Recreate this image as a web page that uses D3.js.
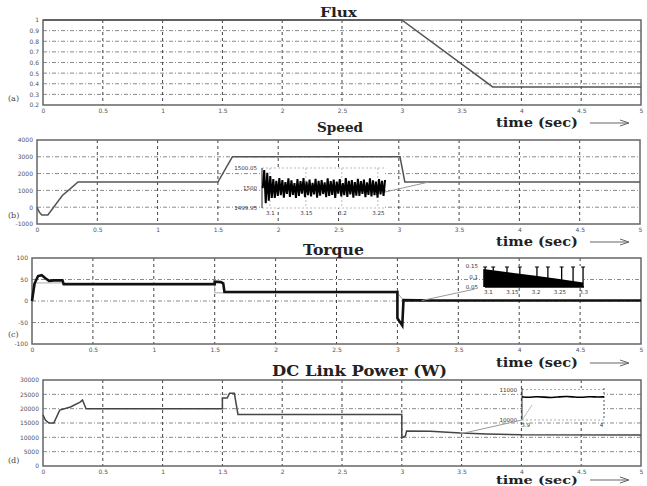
<!DOCTYPE html>
<html><head><meta charset="utf-8">
<script src="https://cdn.jsdelivr.net/npm/d3@7"></script>
<style>body{margin:0;background:#fff}svg{display:block}</style>
</head><body>
<script>
// ---------- data ----------
const timeTicks=[0,0.5,1,1.5,2,2.5,3,3.5,4,4.5,5];
const timeTickLabels=["0","0.5","1","1.5","2","2.5","3","3.5","4","4.5","5"];

const fluxTicks=[0.2,0.3,0.4,0.5,0.6,0.7,0.8,0.9,1];
const fluxTickLabels=["0.2","0.3","0.4","0.5","0.6","0.7","0.8","0.9","1"];
const fluxT=[0,3,3.76,5];
const fluxV=[1,1,0.37,0.37];

const speedTicks=[-1000,0,1000,2000,3000,4000];
const speedTickLabels=["-1000","0","1000","2000","3000","4000"];
const speedT=[0,0.02,0.04,0.09,0.15,0.21,0.27,0.34,1.5,1.62,3.01,3.05,5];
const speedV=[0,-300,-460,-460,120,700,1060,1500,1500,3000,3000,1500,1500];
const speedZoomTicksX=[3.1,3.15,3.2,3.25];
const speedZoomLabelsX=["3.1","3.15","3.2","3.25"];
const speedZoomTicksY=[1499.95,1500,1500.05];
const speedZoomLabelsY=["1499.95","1500","1500.05"];
const speedZoomStart=3.09, speedZoomStep=0.0021;
const speedZoomV=[1500.00,1500.045,1499.962,1500.038,1499.968,1500.03,1499.975,1500.022,1499.975,1500.018,1499.98,1500.025,1499.982,1500.02,1499.976,1500.015,1499.985,1500.024,1499.978,1500.019,1499.983,1500.012,1499.975,1500.022,1499.98,1500.017,1499.986,1500.025,1499.977,1500.016,1499.982,1500.021,1499.979,1500.013,1499.984,1500.023,1499.976,1500.018,1499.981,1500.02,1499.985,1500.014,1499.977,1500.024,1499.98,1500.017,1499.983,1500.021,1499.975,1500.016,1499.986,1500.022,1499.979,1500.012,1499.982,1500.025,1499.978,1500.018,1499.984,1500.02,1499.976,1500.015,1499.981,1500.023,1499.98,1500.017,1499.985,1500.021,1499.977,1500.014,1499.983,1500.024,1499.979,1500.019,1499.982,1500.016,1499.976,1500.022,1499.984,1500.018,1499.98,1500.02];

const torqueTicks=[-100,-50,0,50,100];
const torqueTickLabels=["-100","-50","0","50","100"];
const torqueT=[0,0.02,0.05,0.08,0.11,0.14,0.18,0.25,0.26,1.5,1.5,1.55,1.57,1.58,3.0,3.0,3.04,3.05,3.3,5];
const torqueV=[0,40,58,60,53,47,48,48,39,39,45,44,41,21,21,-40,-57,2,1,1];
const torqueRefT=[0,0.03,1.5,1.5,3.0,3.05,5];
const torqueRefV=[0,42,42,19,19,1,1];
const torqueZoomTicksX=[3.1,3.15,3.2,3.25,3.3];
const torqueZoomLabelsX=["3.1","3.15","3.2","3.25","3.3"];
const torqueZoomTicksY=[0.05,0.1,0.15];
const torqueZoomLabelsY=["0.05","0.1","0.15"];
const torqueZoomT=[3.09,3.15,3.2,3.25,3.3];
const torqueZoomUpper=[0.136,0.118,0.103,0.088,0.071];
const torqueZoomLower=[0.05,0.05,0.05,0.05,0.05];
const torqueZoomSpikes=[3.094,3.111,3.14,3.167,3.203,3.226,3.255,3.279,3.3];

const powerTicks=[0,5000,10000,15000,20000,25000,30000];
const powerTickLabels=["0","5000","10000","15000","20000","25000","30000"];
const powerT=[0,0.02,0.05,0.09,0.14,0.23,0.31,0.33,0.36,1.5,1.5,1.54,1.56,1.6,1.63,3.0,3.0,3.03,3.04,3.24,3.49,3.71,4.0,5];
const powerV=[17800,16000,15000,15000,19500,20600,22300,23000,20000,20000,23700,23700,25400,25400,18000,18000,9800,10500,12200,12100,11500,11200,10900,10800];
const powerZoomTicksX=[3.9,4];
const powerZoomLabelsX=["3.9","4"];
const powerZoomTicksY=[10000,11000];
const powerZoomLabelsY=["10000","11000"];
const powerZoomT=[3.896,3.905,3.915,3.925,3.935,3.945,3.955,3.965,3.975,3.985,3.995,4.004];
const powerZoomV=[10760,10740,10770,10750,10730,10760,10780,10750,10740,10770,10750,10760];

const titles=["Flux","Speed","Torque","DC Link Power (W)"];
const panelTags=["(a)","(b)","(c)","(d)"];

// ---------- drawing ----------
const W=647,H=486;
const svg=d3.select("body").append("svg").attr("width",W).attr("height",H);
svg.append("rect").attr("width",W).attr("height",H).attr("fill","#fff");

const SERIF="'DejaVu Serif','Liberation Serif',serif";
const SANS="'DejaVu Sans',sans-serif";

const layout=[
  {x0:43,x1:641,y0:20,y1:105,dom:[0.2,1],ticks:fluxTicks,labels:fluxTickLabels,tx:320,tw:37,ty:17,fs:12,tagY:101,timeY:127,tfs:12},
  {x0:37,x1:640,y0:140,y1:224,dom:[-1000,4000],ticks:speedTicks,labels:speedTickLabels,tx:317,tw:46,ty:132,fs:12,tagY:218,timeY:246,tfs:12},
  {x0:32,x1:641,y0:258,y1:344,dom:[-100,100],ticks:torqueTicks,labels:torqueTickLabels,tx:303,tw:61,ty:255,fs:14,tagY:337,timeY:367,tfs:12},
  {x0:43,x1:641,y0:380,y1:466,dom:[0,30000],ticks:powerTicks,labels:powerTickLabels,tx:272,tw:175,ty:376,fs:14,tagY:463,timeY:484,tfs:10.5}
];

const scales=layout.map((L,i)=>{
  const x=d3.scaleLinear().domain([0,5]).range([L.x0,L.x1]);
  const y=d3.scaleLinear().domain(L.dom).range([L.y1,L.y0]);
  const g=svg.append("g");
  g.selectAll(".hg").data(L.ticks.slice(1,-1)).enter().append("line")
    .attr("x1",L.x0).attr("x2",L.x1).attr("y1",d=>y(d)).attr("y2",d=>y(d))
    .attr("stroke","#8a8a8a").attr("stroke-width",1).attr("stroke-dasharray","4,2,1,2");
  g.selectAll(".vg").data(timeTicks.slice(1,-1)).enter().append("line")
    .attr("x1",d=>x(d)).attr("x2",d=>x(d)).attr("y1",L.y0).attr("y2",L.y1)
    .attr("stroke","#444").attr("stroke-width",1).attr("stroke-dasharray","3,3");
  g.append("rect").attr("x",L.x0).attr("y",L.y0).attr("width",L.x1-L.x0).attr("height",L.y1-L.y0)
    .attr("fill","none").attr("stroke","#666").attr("stroke-width",1.5);
  const ax=g.append("g").attr("transform",`translate(0,${L.y1})`)
    .call(d3.axisBottom(x).tickValues(timeTicks).tickFormat((d,k)=>timeTickLabels[k]).tickSize(0).tickPadding(4));
  const ay=g.append("g").attr("transform",`translate(${L.x0},0)`)
    .call(d3.axisLeft(y).tickValues(L.ticks).tickFormat((d,k)=>L.labels[k]).tickSize(0).tickPadding(4));
  [ax,ay].forEach(a=>{a.select(".domain").remove();
    a.selectAll("text").attr("font-family",SANS).attr("font-size",6).attr("fill","#555");});
  svg.append("text").attr("x",L.tx).attr("y",L.ty).attr("textLength",L.tw).attr("lengthAdjust","spacingAndGlyphs")
    .attr("font-family",SERIF).attr("font-weight","bold").attr("font-size",L.fs).attr("fill","#222").text(titles[i]);
  svg.append("text").attr("x",8).attr("y",L.tagY).attr("font-family",SERIF).attr("font-size",8).attr("fill","#444").text(panelTags[i]);
  svg.append("text").attr("x",496).attr("y",L.timeY).attr("textLength",82).attr("lengthAdjust","spacingAndGlyphs")
    .attr("font-family",SERIF).attr("font-weight","bold").attr("font-size",L.tfs).attr("fill","#222").text("time (sec)");
  svg.append("line").attr("x1",590).attr("x2",628).attr("y1",L.timeY-4).attr("y2",L.timeY-4).attr("stroke","#666").attr("stroke-width",1);
  svg.append("path").attr("d",`M620,${L.timeY-7} L629,${L.timeY-4} L620,${L.timeY-1}`).attr("fill","none").attr("stroke","#666").attr("stroke-width",1);
  return {x,y};
});

const lineOf=(sx,sy,T,V)=>d3.line().x((d,k)=>sx(T[k])).y(d=>sy(d))(V);

svg.append("path").attr("d",lineOf(scales[0].x,scales[0].y,fluxT,fluxV)).attr("fill","none").attr("stroke","#555").attr("stroke-width",1.5);
svg.append("path").attr("d",lineOf(scales[1].x,scales[1].y,speedT,speedV)).attr("fill","none").attr("stroke","#555").attr("stroke-width",1.5);
svg.append("path").attr("d",lineOf(scales[2].x,scales[2].y,torqueRefT,torqueRefV)).attr("fill","none").attr("stroke","#aaa").attr("stroke-width",1);
svg.append("path").attr("d",lineOf(scales[2].x,scales[2].y,torqueT,torqueV)).attr("fill","none").attr("stroke","#111").attr("stroke-width",2.6);
svg.append("path").attr("d",lineOf(scales[3].x,scales[3].y,powerT,powerV)).attr("fill","none").attr("stroke","#444").attr("stroke-width",1.5);

// ---------- insets ----------
function inset(box,domX,domY,tx,tlx,ty,tly){
  const x=d3.scaleLinear().domain(domX).range([box.x0,box.x1]);
  const y=d3.scaleLinear().domain(domY).range([box.y1,box.y0]);
  const g=svg.append("g");
  g.append("rect").attr("x",box.x0).attr("y",box.y0).attr("width",box.x1-box.x0).attr("height",box.y1-box.y0).attr("fill","#fff");
  const ax=g.append("g").attr("transform",`translate(0,${box.y1})`)
    .call(d3.axisBottom(x).tickValues(tx).tickFormat((d,k)=>tlx[k]).tickSize(0).tickPadding(3));
  const ay=g.append("g").attr("transform",`translate(${box.x0-2},0)`)
    .call(d3.axisLeft(y).tickValues(ty).tickFormat((d,k)=>tly[k]).tickSize(0).tickPadding(3));
  [ax,ay].forEach(a=>{a.select(".domain").remove();
    a.selectAll("text").attr("font-family",SANS).attr("font-size",5.5).attr("fill","#333");});
  return {x,y,g};
}

{
  const b={x0:262,x1:385,y0:168,y1:208};
  const I=inset(b,[3.089,3.26],[1499.95,1500.05],speedZoomTicksX,speedZoomLabelsX,speedZoomTicksY,speedZoomLabelsY);
  I.g.selectAll(".v").data(speedZoomTicksX).enter().append("line").attr("x1",d=>I.x(d)).attr("x2",d=>I.x(d))
    .attr("y1",b.y0).attr("y2",b.y1).attr("stroke","#bbb").attr("stroke-dasharray","2,2");
  I.g.selectAll(".h").data(speedZoomTicksY).enter().append("line").attr("x1",b.x0).attr("x2",b.x1)
    .attr("y1",d=>I.y(d)).attr("y2",d=>I.y(d)).attr("stroke","#bbb").attr("stroke-dasharray","2,2");
  I.g.append("line").attr("x1",b.x0).attr("x2",b.x0).attr("y1",b.y0).attr("y2",b.y1).attr("stroke","#222").attr("stroke-width",1);
  I.g.append("path").attr("d",d3.line().x((d,k)=>I.x(speedZoomStart+k*speedZoomStep)).y(d=>I.y(d))(speedZoomV))
    .attr("fill","none").attr("stroke","#000").attr("stroke-width",2);
  svg.append("line").attr("x1",b.x1).attr("y1",I.y(1499.99)).attr("x2",scales[1].x(3.25)).attr("y2",scales[1].y(1500))
    .attr("stroke","#999").attr("stroke-width",1);
}

{
  const b={x0:483,x1:584,y0:266,y1:287};
  const I=inset(b,[3.0895,3.302],[0.05,0.15],torqueZoomTicksX,torqueZoomLabelsX,torqueZoomTicksY,torqueZoomLabelsY);
  I.g.append("path").attr("d",d3.area().x((d,k)=>I.x(torqueZoomT[k])).y0((d,k)=>I.y(torqueZoomLower[k])).y1(d=>I.y(d))(torqueZoomUpper))
    .attr("fill","#000");
  I.g.selectAll(".s").data(torqueZoomSpikes).enter().append("line").attr("x1",d=>I.x(d)).attr("x2",d=>I.x(d))
    .attr("y1",b.y0+1).attr("y2",b.y1).attr("stroke","#000").attr("stroke-width",1.3);
  I.g.selectAll(".st").data(torqueZoomSpikes).enter().append("line").attr("x1",d=>I.x(d)-2).attr("x2",d=>I.x(d)+2)
    .attr("y1",b.y0+1).attr("y2",b.y0+1).attr("stroke","#000").attr("stroke-width",1);
  I.g.append("line").attr("x1",b.x0+2).attr("x2",b.x1).attr("y1",b.y1).attr("y2",b.y1).attr("stroke","#000").attr("stroke-width",1.5);
  svg.append("line").attr("x1",b.x0-8).attr("y1",b.y1+2).attr("x2",scales[2].x(3.2)).attr("y2",scales[2].y(1))
    .attr("stroke","#999").attr("stroke-width",1);
}

{
  const b={x0:522,x1:604,y0:388,y1:420};
  const I=inset(b,[3.896,4.004],[10000,11050],powerZoomTicksX,powerZoomLabelsX,powerZoomTicksY,powerZoomLabelsY);
  I.g.selectAll(".h").data([10000,11000]).enter().append("line").attr("x1",b.x0).attr("x2",b.x1)
    .attr("y1",d=>I.y(d)).attr("y2",d=>I.y(d)).attr("stroke","#aaa").attr("stroke-dasharray","2,2");
  I.g.append("line").attr("x1",b.x0).attr("x2",b.x0).attr("y1",b.y0).attr("y2",b.y1).attr("stroke","#333").attr("stroke-width",1);
  I.g.append("line").attr("x1",b.x1).attr("x2",b.x1).attr("y1",b.y0).attr("y2",b.y1).attr("stroke","#555").attr("stroke-dasharray","2,2");
  I.g.append("path").attr("d",d3.line().x((d,k)=>I.x(powerZoomT[k])).y(d=>I.y(d)).curve(d3.curveBasis)(powerZoomV))
    .attr("fill","none").attr("stroke","#000").attr("stroke-width",1.6);
  svg.append("line").attr("x1",scales[3].x(3.5)).attr("y1",scales[3].y(11300)).attr("x2",b.x0).attr("y2",b.y1)
    .attr("stroke","#999").attr("stroke-width",1);
  svg.append("line").attr("x1",b.x0).attr("y1",b.y1).attr("x2",b.x0+10).attr("y2",b.y1-15)
    .attr("stroke","#aaa").attr("stroke-width",0.8);
}
</script>
</body></html>
